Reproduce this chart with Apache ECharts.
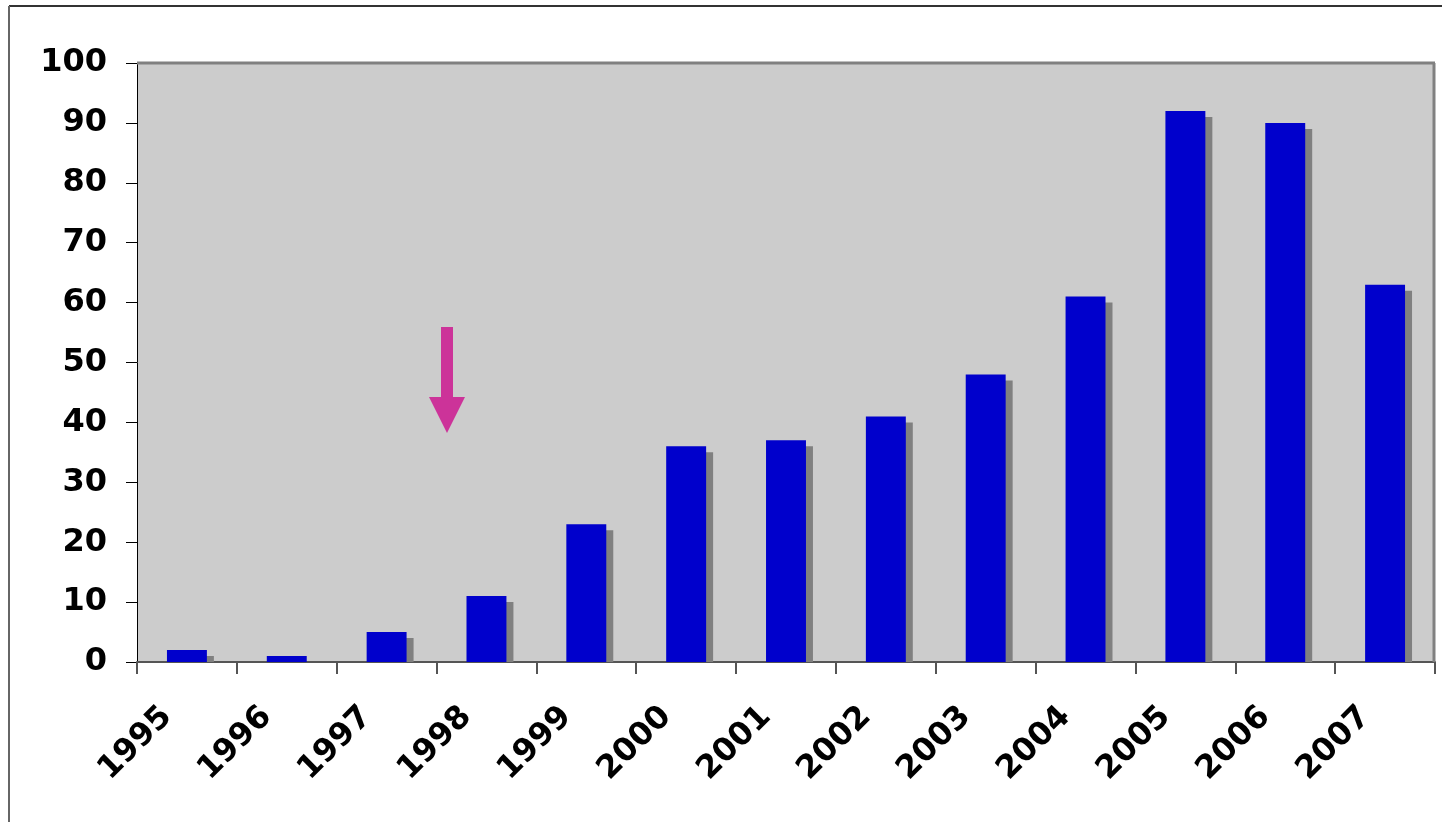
<!DOCTYPE html>
<html lang="en">
<head>
    <meta http-equiv="Content-Type" content="text/html; charset=UTF-8">
    <title>Bars by year</title>
    <script type="text/javascript" src="https://cdn.jsdelivr.net/npm/echarts@6/dist/echarts.min.js"></script>
    <style>
        html, body { margin: 0; padding: 0; background: #fff; }
    </style>
</head>

<body style="width: 1442px; height: 822px">
<div id="main" style="width: 1442px; height: 822px"></div>
<script type="text/javascript">
    var years = ['1995', '1996', '1997', '1998', '1999', '2000', '2001',
        '2002', '2003', '2004', '2005', '2006', '2007'];
    var counts = [2, 1, 5, 11, 23, 36, 37, 41, 48, 61, 92, 90, 63];
    var yTicks = [0, 10, 20, 30, 40, 50, 60, 70, 80, 90, 100];

    var labelFont = 'DejaVu Sans';
    var myChart = echarts.init(document.getElementById('main'));

    // shadow drawn behind each bar, shifted right / down, clipped at the axis
    function renderShadow(params, api) {
        var top = api.coord([api.value(0), api.value(1)]);
        var base = api.coord([api.value(0), 0]);
        var w = api.size([1, 0])[0] * 0.4;
        var rect = echarts.graphic.clipRectByRect({
            x: top[0] - w / 2 + 7,
            y: top[1] + 6,
            width: w,
            height: base[1] - top[1] - 6
        }, {
            x: params.coordSys.x,
            y: params.coordSys.y,
            width: params.coordSys.width,
            height: params.coordSys.height
        });
        return rect && {
            type: 'rect',
            shape: rect,
            style: { fill: '#808080' }
        };
    }

    myChart.setOption({
        animation: false,
        grid: {
            left: 137,
            right: 7,
            top: 63,
            bottom: 160,
            show: true,
            backgroundColor: '#cccccc',
            borderWidth: 0
        },
        xAxis: {
            type: 'category',
            data: years,
            axisLine: { lineStyle: { color: '#555', width: 2 } },
            axisTick: { show: true, length: 12, lineStyle: { color: '#555', width: 2 } },
            axisLabel: {
                rotate: 45,
                margin: 30,
                padding: [0, 28, 0, 0],
                color: '#000',
                fontFamily: labelFont,
                fontWeight: 'bold',
                fontSize: 32
            },
            splitLine: { show: false }
        },
        yAxis: {
            type: 'value',
            min: yTicks[0],
            max: yTicks[yTicks.length - 1],
            interval: 10,
            axisLine: { show: true, lineStyle: { color: '#000', width: 1 } },
            axisTick: { show: true, length: 11, lineStyle: { color: '#000' } },
            axisLabel: {
                margin: 30,
                color: '#000',
                fontFamily: labelFont,
                fontWeight: 'bold',
                fontSize: 32
            },
            splitLine: { show: false }
        },
        graphic: [
            // outer frame (top and left edges)
            { type: 'line', shape: { x1: 9, y1: 6, x2: 1442, y2: 6 }, style: { stroke: '#333', lineWidth: 2 } },
            { type: 'line', shape: { x1: 9, y1: 6, x2: 9, y2: 822 }, style: { stroke: '#666', lineWidth: 2 } },
            // plot area top and right border
            { type: 'line', shape: { x1: 137, y1: 63, x2: 1435, y2: 63 }, style: { stroke: '#808080', lineWidth: 3 }, z: 10 },
            { type: 'line', shape: { x1: 1434, y1: 63, x2: 1434, y2: 662 }, style: { stroke: '#808080', lineWidth: 3 }, z: 10 },
            // arrow annotation
            {
                type: 'polygon',
                z: 10,
                shape: {
                    points: [[441, 327], [453, 327], [453, 397], [465, 397],
                        [447, 433], [429, 397], [441, 397]]
                },
                style: { fill: '#cc3399' }
            }
        ],
        series: [
            {
                type: 'custom',
                renderItem: renderShadow,
                data: counts.map(function (v, i) { return [i, v]; }),
                z: 1
            },
            {
                type: 'bar',
                data: counts,
                barWidth: '40%',
                itemStyle: { color: '#0000cc' },
                z: 2
            }
        ]
    });
</script>
</body>
</html>
